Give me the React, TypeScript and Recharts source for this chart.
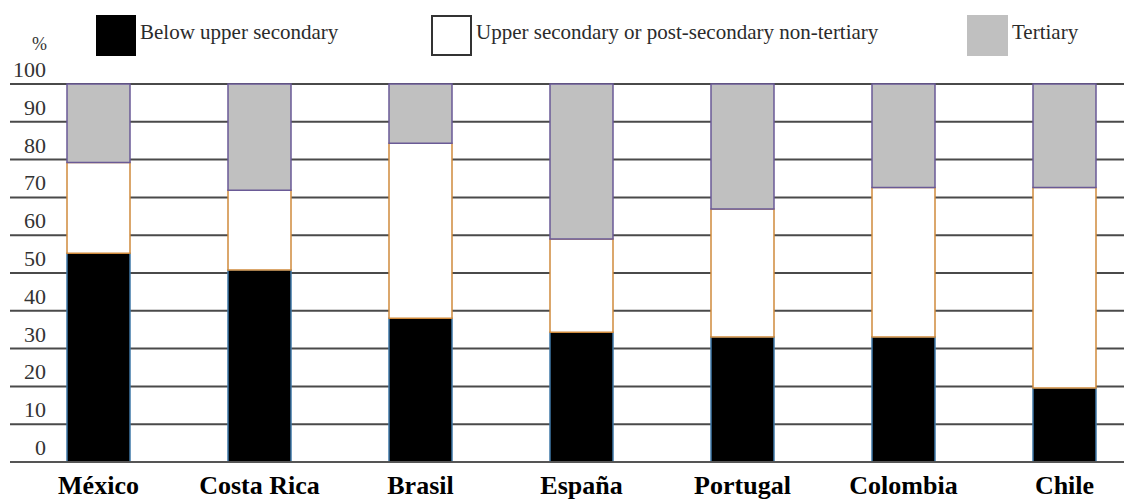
import { BarChart, Bar, XAxis, YAxis, CartesianGrid, Legend } from "recharts";

const countries = ["México", "Costa Rica", "Brasil", "España", "Portugal", "Colombia", "Chile"];
const belowUpperSecondary = [55.2, 50.8, 38.0, 34.3, 33.1, 33.1, 19.6];
const upperSecondary = [24.0, 21.1, 46.3, 24.7, 33.8, 39.5, 53.0];
const tertiary = [20.8, 28.1, 15.7, 41.0, 33.1, 27.4, 27.4];
const yTicks = [0, 10, 20, 30, 40, 50, 60, 70, 80, 90, 100];

const chartData = countries.map((country, i) => ({
  country,
  below: belowUpperSecondary[i],
  upper: upperSecondary[i],
  tertiary: tertiary[i],
}));

const legendItems = [
  { label: "Below upper secondary", fill: "#000000", border: "#000000", left: 96, width: 40 },
  { label: "Upper secondary or post-secondary non-tertiary", fill: "#ffffff", border: "#333333", left: 431, width: 41 },
  { label: "Tertiary", fill: "#c0c0c0", border: "#c0c0c0", left: 967, width: 41 },
];

const serif = "'Liberation Serif', 'Times New Roman', serif";

function LegendContent() {
  return (
    <div style={{ position: "relative", width: 1124, height: 70 }}>
      {legendItems.map((item) => (
        <div key={item.label}>
          <div
            style={{
              position: "absolute",
              left: item.left,
              top: 15,
              width: item.width - 4,
              height: 37,
              background: item.fill,
              border: `2px solid ${item.border}`,
            }}
          />
          <span
            style={{
              position: "absolute",
              left: item.left + item.width + 4,
              top: 21,
              fontFamily: serif,
              fontSize: 21,
              lineHeight: "22px",
              color: "#2b2b2b",
              whiteSpace: "nowrap",
            }}
          >
            {item.label}
          </span>
        </div>
      ))}
    </div>
  );
}

function YTick(props: any) {
  const { y, payload } = props;
  return (
    <text x={46} y={y - 7} textAnchor="end" fontFamily={serif} fontSize={22} fill="#333333">
      {payload.value}
    </text>
  );
}

function XTick(props: any) {
  const { x, y, payload } = props;
  return (
    <text x={x} y={y + 24} textAnchor="middle" fontFamily={serif} fontSize={26} fontWeight="bold" fill="#000000">
      {payload.value}
    </text>
  );
}

export default function App() {
  return (
    <div
      style={{
        position: "absolute",
        left: 0,
        top: 0,
        width: 1124,
        height: 500,
        overflow: "hidden",
        background: "#ffffff",
      }}
    >
      <BarChart
        width={1145}
        height={500}
        data={chartData}
        margin={{ top: 14, right: 0, left: 0, bottom: 0 }}
      >
        <CartesianGrid vertical={false} stroke="#4a4a4a" strokeWidth={2} />
        <XAxis
          dataKey="country"
          height={38}
          padding={{ left: 8, right: 0 }}
          axisLine={{ stroke: "#555555", strokeWidth: 2 }}
          tickLine={false}
          tick={<XTick />}
          interval={0}
        />
        <YAxis
          width={10}
          domain={[0, 100]}
          ticks={yTicks}
          axisLine={false}
          tickLine={false}
          tick={<YTick />}
          interval={0}
        />
        <Legend
          verticalAlign="top"
          height={70}
          content={<LegendContent />}
          wrapperStyle={{ position: "absolute", left: 0, top: 0, width: 1124, height: 70 }}
        />
        <Bar dataKey="below" stackId="a" fill="#000000" stroke="#3f78a8" strokeWidth={1.5} barSize={63} isAnimationActive={false} />
        <Bar dataKey="upper" stackId="a" fill="#ffffff" stroke="#d08a3c" strokeWidth={1.5} barSize={63} isAnimationActive={false} />
        <Bar dataKey="tertiary" stackId="a" fill="#c0c0c0" stroke="#6a5a96" strokeWidth={1.5} barSize={63} isAnimationActive={false} />
        <text x={47} y={50} textAnchor="end" fontFamily={serif} fontSize={18} fill="#333333">
          %
        </text>
      </BarChart>
    </div>
  );
}
